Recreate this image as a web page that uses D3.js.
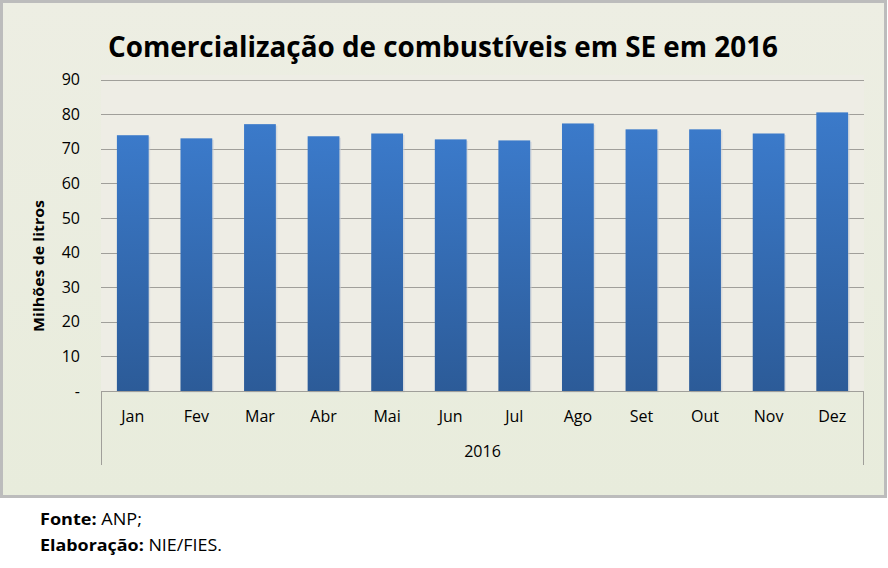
<!DOCTYPE html>
<html><head><meta charset="utf-8">
<script src="https://cdn.jsdelivr.net/npm/d3@7"></script>
<style>body{margin:0;background:#fff;}svg{display:block;}</style>
</head><body>
<svg id="c" width="888" height="568"></svg>
<script>
const months = ["Jan","Fev","Mar","Abr","Mai","Jun","Jul","Ago","Set","Out","Nov","Dez"];
const values = [73.9,73.0,77.1,73.6,74.4,72.7,72.4,77.3,75.6,75.6,74.4,80.5];
const yTicks = [0,10,20,30,40,50,60,70,80,90];
const yearLabel = "2016";
const title = "Comercialização de combustíveis em SE em 2016";
const yTitle = "Milhões de litros";

const svg = d3.select("#c");
const font = "'Open Sans', sans-serif";
const L = 101, R = 864, T = 75, B = 391;

const defs = svg.append("defs");
const g1 = defs.append("linearGradient").attr("id","bar").attr("x1",0).attr("y1",0).attr("x2",0).attr("y2",1);
g1.append("stop").attr("offset","0%").attr("stop-color","#3b7aca");
g1.append("stop").attr("offset","100%").attr("stop-color","#2c5b98");
const g2 = defs.append("linearGradient").attr("id","bg").attr("x1",0).attr("y1",0).attr("x2",0).attr("y2",1);
g2.append("stop").attr("offset","0%").attr("stop-color","#edeee3");
g2.append("stop").attr("offset","100%").attr("stop-color","#e8ecdc");

// chart area
svg.append("rect").attr("x",1.5).attr("y",1.5).attr("width",884).attr("height",495)
  .attr("fill","url(#bg)").attr("stroke","#bcbcbc").attr("stroke-width",3);
// plot area
svg.append("rect").attr("x",L).attr("y",T).attr("width",R-L).attr("height",B-T).attr("fill","#eeede5");

const x = d3.scaleBand().domain(months).range([L,R]).paddingInner(0.5).paddingOuter(0.25);
const y = d3.scaleLinear().domain([0,90]).range([B,79.5]);

// gridlines
svg.append("g").selectAll("line").data(yTicks.filter(d=>d>0)).join("line")
  .attr("x1",L).attr("x2",R).attr("y1",d=>Math.round(y(d))+0.5).attr("y2",d=>Math.round(y(d))+0.5)
  .attr("stroke","#a09f9a").attr("stroke-width",1);

// bars with slight shadow
svg.append("g").selectAll("rect").data(values).join("rect")
  .attr("x",(d,i)=>x(months[i])+1.5).attr("y",d=>y(d)+1.5).attr("width",x.bandwidth()).attr("height",d=>B-y(d))
  .attr("fill","#c9cfd6").attr("opacity",0.6);
svg.append("g").selectAll("rect").data(values).join("rect")
  .attr("x",(d,i)=>x(months[i])).attr("y",d=>y(d)).attr("width",x.bandwidth()).attr("height",d=>B-y(d))
  .attr("fill","url(#bar)");

// y axis
const yAxis = d3.axisLeft(y).tickValues(yTicks).tickSize(0).tickPadding(0)
  .tickFormat(d=>d===0?"-":d);
const ya = svg.append("g").attr("transform",`translate(${80},0)`).call(yAxis);
ya.select(".domain").remove();
ya.selectAll("text").attr("font-family",font).attr("font-size",16).attr("fill","#000");

// category axis
const ax = "#a09f9a";
svg.append("line").attr("x1",L).attr("x2",R).attr("y1",B+0.5).attr("y2",B+0.5).attr("stroke",ax);
svg.append("line").attr("x1",L+0.5).attr("x2",L+0.5).attr("y1",B).attr("y2",465).attr("stroke",ax);
svg.append("line").attr("x1",R-0.5).attr("x2",R-0.5).attr("y1",B).attr("y2",465).attr("stroke",ax);
const xAxis = d3.axisBottom(x).tickSize(0).tickPadding(0);
const xa = svg.append("g").attr("transform",`translate(0,${B})`).call(xAxis);
xa.select(".domain").remove();
xa.selectAll("text").attr("dy",null).attr("y",31).attr("font-family",font).attr("font-size",16).attr("fill","#000");

svg.append("text").attr("x",(L+R)/2).attr("y",457).attr("text-anchor","middle")
  .attr("font-family",font).attr("font-size",16).text(yearLabel);

// title
svg.append("text").attr("x",443).attr("y",57).attr("text-anchor","middle")
  .attr("font-family",font).attr("font-size",28).attr("font-weight","bold")
  .attr("textLength",670).attr("lengthAdjust","spacingAndGlyphs").text(title);

// y title
svg.append("text").attr("transform","translate(44,266) rotate(-90)").attr("text-anchor","middle")
  .attr("font-family",font).attr("font-size",15).attr("font-weight","bold")
  .attr("textLength",132).attr("lengthAdjust","spacingAndGlyphs").text(yTitle);

// footnote
const f1 = svg.append("text").attr("x",40).attr("y",525).attr("font-family",font).attr("font-size",16)
  .attr("textLength",102).attr("lengthAdjust","spacingAndGlyphs");
f1.append("tspan").attr("font-weight","bold").text("Fonte:");
f1.append("tspan").text(" ANP;");
const f2 = svg.append("text").attr("x",40).attr("y",551).attr("font-family",font).attr("font-size",16)
  .attr("textLength",182).attr("lengthAdjust","spacingAndGlyphs");
f2.append("tspan").attr("font-weight","bold").text("Elaboração:");
f2.append("tspan").text(" NIE/FIES.");
</script>
</body></html>
